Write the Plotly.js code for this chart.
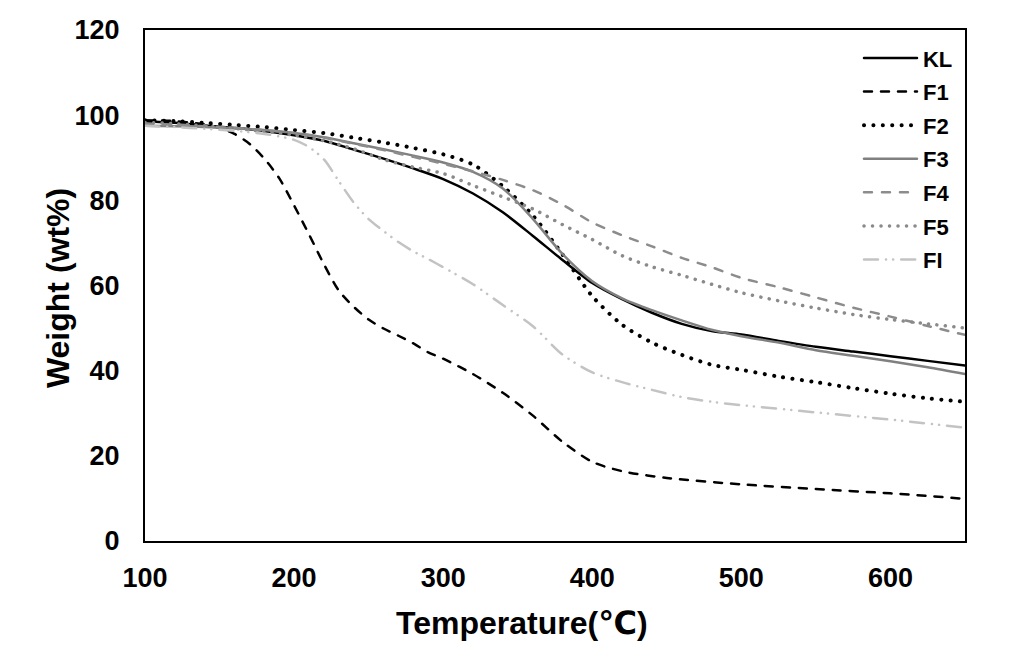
<!DOCTYPE html>
<html>
<head>
<meta charset="utf-8">
<script src="https://cdn.plot.ly/plotly-3.0.1.min.js"></script>
<style>
  html, body { margin: 0; padding: 0; background: #fff; }
  #chart { width: 1012px; height: 653px; }
  .js-line { stroke-linecap: round; }
  .legend .traces path.js-line { d: path("M5,0h53"); }
</style>
</head>
<body>
<div id="chart"></div>
<script>
// ---- Data ----
const seriesNames = ["KL", "F1", "F2", "F3", "F4", "F5", "FI"];

const tempGrid = [100,120,140,160,180,200,220,240,260,280,300,320,340,360,380,400,420,440,460,480,500,525,550,575,600,625,650];

const klWeight = [98.6,98.2,97.6,97.0,96.3,95.3,94.0,91.9,89.8,87.5,85.0,81.6,77.2,71.7,66.0,60.6,56.8,53.6,51.0,49.3,48.5,47.0,45.6,44.5,43.4,42.3,41.2];
const f2Weight = [98.8,98.6,98.2,97.7,97.2,96.5,95.8,94.7,93.6,92.3,90.8,88.4,83.3,76.5,67.3,57.5,50.8,46.6,43.7,41.4,40.2,38.6,37.3,35.9,34.6,33.5,32.7];
const f3Weight = [97.5,97.4,97.2,96.9,96.5,95.8,94.8,93.4,92.0,90.5,88.9,86.7,82.8,75.7,67.4,61.0,57.0,54.2,51.8,49.6,48.1,46.6,44.8,43.5,42.2,40.8,39.2];
const f4Weight = [98.0,97.8,97.4,97.0,96.5,95.8,94.7,93.3,91.8,90.2,88.6,86.8,84.8,82.4,79.0,74.8,71.8,69.2,66.5,64.3,61.8,59.6,57.2,54.8,52.7,50.5,48.4];
const f5Weight = [98.3,98.0,97.5,96.9,96.2,95.3,94.0,92.1,89.6,87.8,86.3,83.5,80.8,78.0,74.3,70.8,67.0,64.4,62.4,60.3,58.3,56.4,54.7,53.2,52.0,51.0,50.0];

const f1Temp   = [100,120,140,150,160,170,180,190,200,210,220,230,240,250,260,270,280,290,300,320,340,360,380,400,420,450,500,550,600,650];
const f1Weight = [98.8,98.6,97.8,97.0,95.6,93.3,89.8,85.2,78.8,72.0,65.0,58.8,55.0,52.0,49.9,48.2,46.4,44.3,42.8,39.2,34.8,29.5,23.3,18.6,16.4,14.8,13.3,12.2,11.2,9.9];

const fiTemp   = [100,120,140,160,180,200,210,220,230,240,250,260,270,280,290,300,320,340,360,380,400,420,440,460,480,500,550,600,650];
const fiWeight = [97.5,97.2,96.8,96.3,95.6,94.2,92.5,89.6,84.5,79.5,75.6,72.8,70.2,68.0,66.2,64.3,60.3,55.4,50.5,43.8,39.6,37.3,35.5,33.8,32.7,31.9,30.2,28.5,26.6];

const xTicks = [100,200,300,400,500,600];
const yTicks = [0,20,40,60,80,100,120];
const xTitle = "Temperature(℃)";
const yTitle = "Weight (wt%)";

// ---- Styles ----
const styles = {
  KL: {color: "#000000", width: 2.5, dash: "solid"},
  F1: {color: "#000000", width: 2.5, dash: "8px,9px"},
  F2: {color: "#000000", width: 4,   dash: "0.1px,9.3px"},
  F3: {color: "#808080", width: 2.5, dash: "solid"},
  F4: {color: "#8c8c8c", width: 2.5, dash: "8px,10px"},
  F5: {color: "#8a8a8a", width: 3.5, dash: "0.1px,8.4px"},
  FI: {color: "#c3c3c3", width: 2.5, dash: "14px,8px,0.1px,7px,0.1px,8px"}
};

const xs = {KL: tempGrid, F1: f1Temp, F2: tempGrid, F3: tempGrid, F4: tempGrid, F5: tempGrid, FI: fiTemp};
const ys = {KL: klWeight, F1: f1Weight, F2: f2Weight, F3: f3Weight, F4: f4Weight, F5: f5Weight, FI: fiWeight};

const FONT = '"Liberation Sans", Arial, "DejaVu Sans", sans-serif';

const traces = seriesNames.map(name => ({
  type: "scatter",
  mode: "lines",
  name: name,
  legendgroup: name,
  x: xs[name],
  y: ys[name],
  line: {color: styles[name].color, width: styles[name].width, dash: styles[name].dash, shape: "spline", smoothing: 0.8},
  hoverinfo: "skip"
}));

const titleFont = {family: FONT, size: 32, color: "#000", weight: "bold"};

const layout = {
  width: 1012,
  height: 653,
  margin: {l: 145, r: 47, t: 30, b: 112},
  paper_bgcolor: "#ffffff",
  plot_bgcolor: "#ffffff",
  font: {family: FONT, color: "#000"},
  showlegend: true,
  legend: {
    x: 0.8707, y: 0.986, xanchor: "left", yanchor: "top",
    bgcolor: "rgba(255,255,255,0)",
    font: {family: FONT, size: 22, color: "#000", weight: "bold"},
    itemwidth: 54,
    tracegroupgap: 2,
    traceorder: "grouped"
  },
  xaxis: {
    range: [100, 650],
    tickvals: xTicks,
    ticktext: xTicks.map(String),
    ticks: "",
    showgrid: false,
    zeroline: false,
    showline: true,
    mirror: true,
    linecolor: "#000",
    linewidth: 2,
    ticklabelstandoff: 12,
    tickfont: {family: FONT, size: 27, color: "#000", weight: "bold"}
  },
  yaxis: {
    range: [0, 120],
    tickvals: yTicks,
    ticktext: yTicks.map(String),
    ticks: "",
    showgrid: false,
    zeroline: false,
    showline: true,
    mirror: true,
    linecolor: "#000",
    linewidth: 2,
    ticklabelstandoff: 18,
    tickfont: {family: FONT, size: 27, color: "#000", weight: "bold"}
  },
  annotations: [
    {
      text: xTitle,
      xref: "paper", yref: "paper",
      x: 0.46, y: -0.1605,
      xanchor: "center", yanchor: "middle",
      showarrow: false,
      font: titleFont
    },
    {
      text: yTitle,
      xref: "paper", yref: "paper",
      x: -0.1061, y: 0.495,
      xanchor: "center", yanchor: "middle",
      textangle: -90,
      showarrow: false,
      font: titleFont
    }
  ]
};

Plotly.newPlot("chart", traces, layout, {staticPlot: true, displayModeBar: false});
</script>
</body>
</html>
